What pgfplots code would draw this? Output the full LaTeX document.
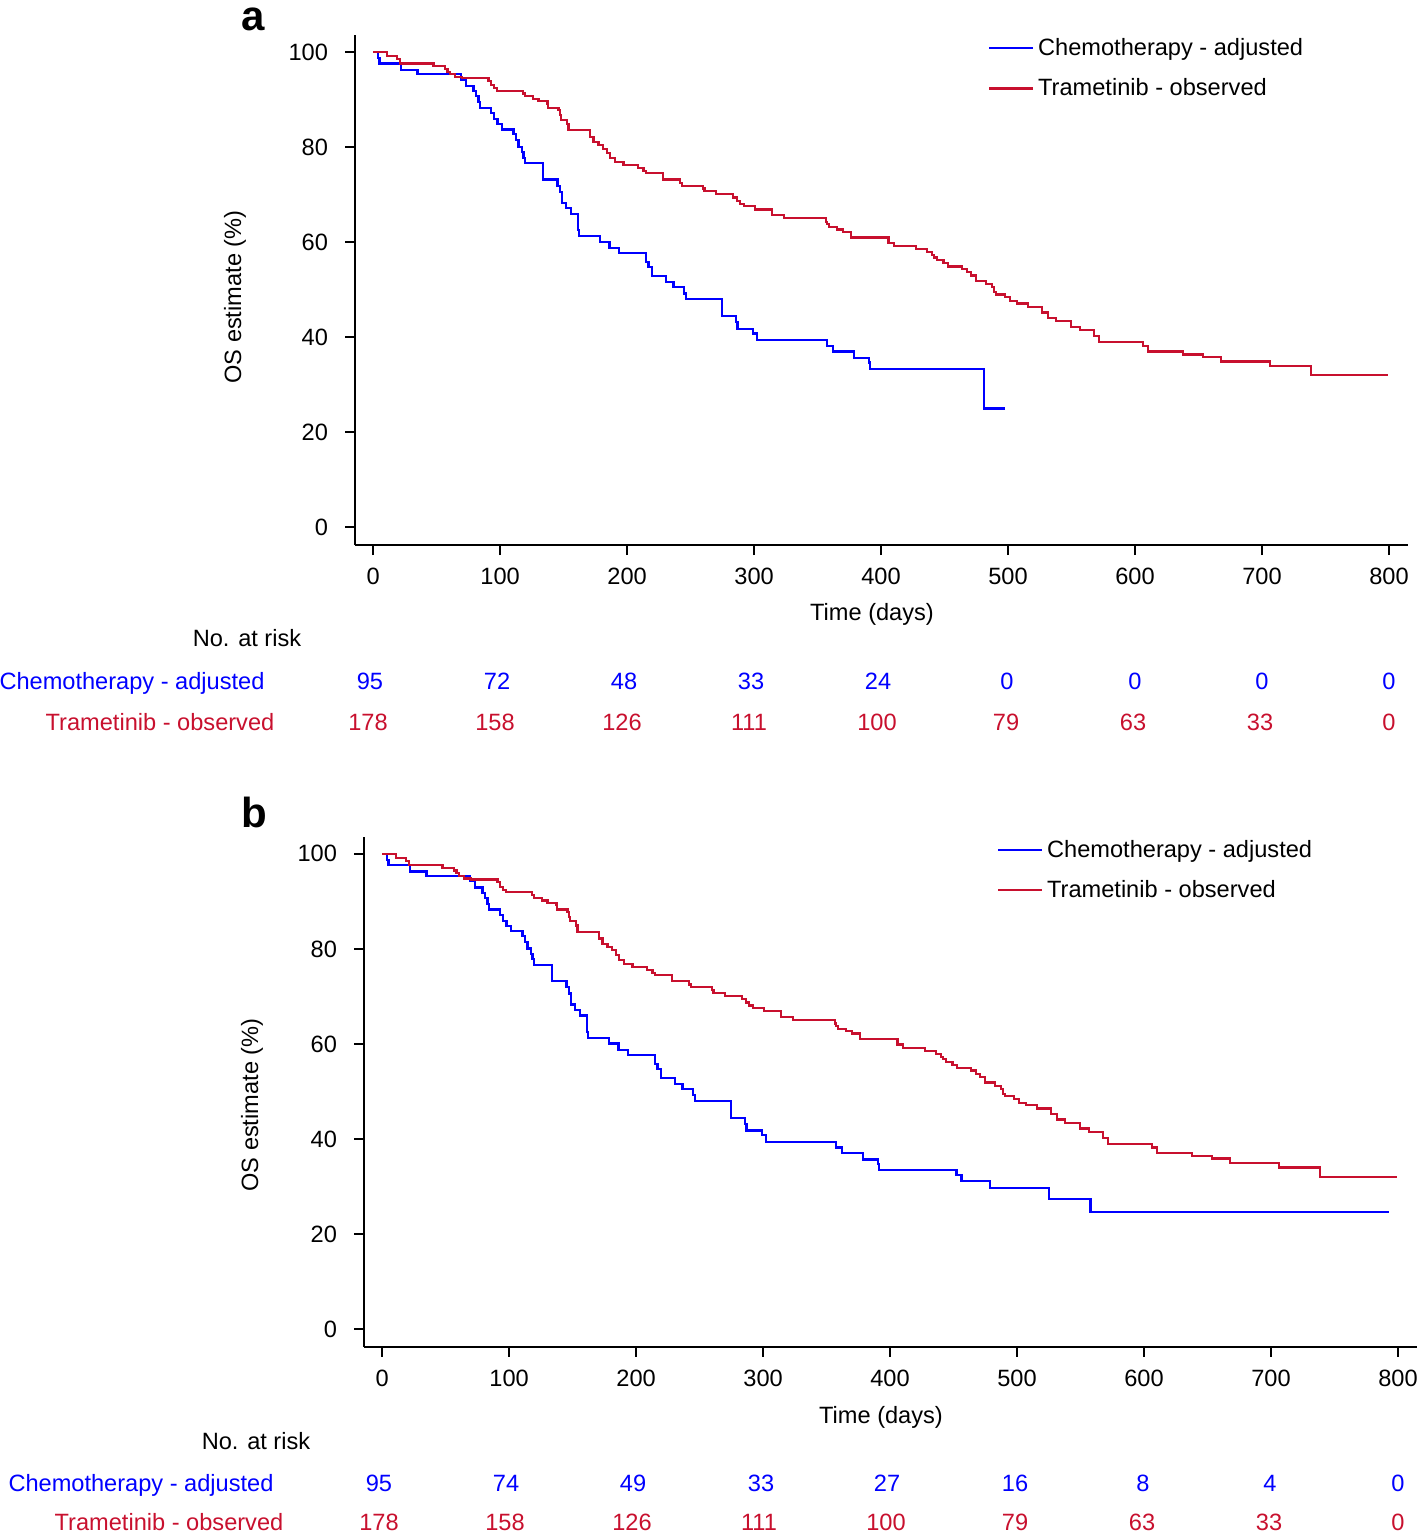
\documentclass[border=0pt]{standalone}
\usepackage{fontspec}
\setmainfont{Liberation Sans}
\usepackage{pgfplots}
\pgfplotsset{compat=1.18}
\usepackage{pgfplotstable}
\definecolor{chemo}{RGB}{0,0,255}
\definecolor{tram}{RGB}{200,16,46}
\newcommand\lblfont{\fontsize{11.8}{13.5}\selectfont}

% Trametinib - observed (same curve in both panels)
\pgfplotstableread{
day os
0 100
10.8 99.2
19 98.5
21 97.6
47.5 97.0
56.7 96.5
58.5 95.9
60.6 95.4
64.6 94.8
69.8 94.6
90.8 94.0
92.5 93.0
95 92.4
97.4 91.9
117.9 91.3
119.7 90.7
125.7 90.2
130.2 89.7
137.3 89.2
138 88.3
145.9 87.8
147.2 86.7
148 85.8
152.5 84.9
153.8 83.6
170.9 82.2
173.5 81.1
177.4 80.4
181.3 79.7
184 78.7
186.6 77.7
190.6 76.9
197.1 76.2
208.4 75.6
212.9 75.0
215 74.5
228.1 73.2
241.7 72.5
243.5 71.9
259.6 71.3
261 70.8
270 70.1
283.2 69.4
286.4 68.7
289 68.1
292.1 67.6
300.8 66.9
314 65.7
323.6 65.1
356.4 64.3
357.2 63.8
359 63.2
365.1 62.7
369.8 62.2
376.1 61.0
405.8 59.9
410.2 59.2
427.6 58.5
436 57.9
440.4 57.3
441.7 56.8
443.9 56.2
449.1 55.6
453 54.9
463.5 54.4
467.9 53.7
470.6 53.0
474.8 51.9
482.7 51.2
487.6 50.6
489 49.5
490.6 49.0
497.6 48.4
501.6 47.6
507.3 47.1
515.5 46.4
526.7 45.2
531.7 44.1
537.8 43.4
549.4 42.2
556.7 41.5
567.7 40.2
571.9 39.0
606.1 38.2
610.5 37.0
637.6 36.4
653.8 35.9
667.5 34.9
706.3 34.0
738.3 32.0
799.5 32.0
}\tram

% Chemotherapy - adjusted, panel a
\pgfplotstableread{
day os
0 100
3.7 98.7
5 97.6
21.8 96.3
34.9 95.4
69 94.2
73 92.9
79 91.8
80.9 90.7
82.9 89.5
84.3 88.3
92.9 87.2
95.3 85.9
97.9 84.8
101.3 83.7
110.5 82.7
112.6 81.5
114.4 80.1
117.1 79.0
118.4 77.8
119.7 76.6
133.6 73.2
145.1 71.9
147.2 70.6
148.6 68.3
152 67.2
155.7 66.0
161.4 62.5
162 61.3
178.7 60.1
186.1 58.8
193.9 57.7
215 55.8
216.8 54.8
219.4 52.9
230.7 51.6
236.5 50.6
244.9 49.2
246.2 48.0
275 44.5
285.8 43.2
286.9 41.8
299 40.8
302.6 39.4
357.2 38.2
361.9 37.0
378.9 35.7
390.8 34.7
391.3 33.3
480.9 25.0
497.6 25.0
}\chemoa

% Chemotherapy - adjusted, panel b
\pgfplotstableread{
day os
0 100
3.7 98.7
5 97.6
21.8 96.3
34.9 95.4
69 94.2
73 92.9
79 91.8
80.9 90.7
82.9 89.5
84.3 88.3
92.9 87.2
95.3 85.9
97.9 84.8
101.3 83.7
110.5 82.7
112.6 81.5
114.4 80.1
117.1 79.0
118.4 77.8
119.7 76.6
133.6 73.2
145.1 71.9
147.2 70.6
148.6 68.3
152 67.2
155.7 66.0
161.4 62.5
162 61.3
178.7 60.1
186.1 58.8
193.9 57.7
215 55.8
216.8 54.8
219.4 52.9
230.7 51.6
236.5 50.6
244.9 49.2
246.2 48.0
275 44.5
285.8 43.2
286.9 41.8
299 40.8
302.6 39.4
357.2 38.2
361.9 37.0
378.9 35.7
390.8 34.7
391.3 33.5
452.4 32.4
456.3 31.1
478.5 29.7
525.2 27.4
557.8 24.6
793 24.6
}\chemob

\pgfplotsset{kmaxis/.style={
    scale only axis,
    width=526.5pt, height=255pt,
    xmin=-14.3, xmax=815, ymin=-3.7, ymax=103.6,
    axis x line=bottom, axis y line=left,
    axis line style={-, line width=1pt},
    tick align=outside, major tick length=5pt,
    tick style={line width=1pt, black},
    xtick={0,100,...,800}, ytick={0,20,...,100},
    /pgf/number format/assume math mode=true,
    tick label style={font=\lblfont},
    x tick label style={yshift=-3pt},
    y tick label style={xshift=-5pt},
    legend style={draw=none, fill=none, at={(0.595,1.01)}, anchor=north west,
        font=\lblfont, row sep=6pt},
    legend cell align=left,
    legend image code/.code={\draw[##1, line width=1pt] (0pt,0pt) -- (14pt,0pt); \path (0pt,0pt) -- (22pt,0pt);},
    every axis plot/.append style={const plot, line width=1.1pt, mark=none},
}}

\begin{document}
\begin{tikzpicture}[font=\lblfont]
% panel a
\begin{axis}[kmaxis, at={(177.5pt,-272.5pt)}, anchor=south west]
\addplot[chemo] table[x=day, y=os] {\chemoa};
\addplot[tram] table[x=day, y=os] {\tram};
\legend{Chemotherapy - adjusted, Trametinib - observed}
\end{axis}
% panel b
\begin{axis}[kmaxis, at={(182pt,-673.35pt)}, anchor=south west]
\addplot[chemo] table[x=day, y=os] {\chemob};
\addplot[tram] table[x=day, y=os] {\tram};
\legend{Chemotherapy - adjusted, Trametinib - observed}
\end{axis}

\begin{scope}[x=0.5pt, y=-0.5pt]
% panel labels
\node[anchor=base, inner sep=0pt, font=\fontsize{21}{24}\selectfont\bfseries] at (253,30) {a};
\node[anchor=base, inner sep=0pt, font=\fontsize{21}{24}\selectfont\bfseries] at (254,827) {b};
% axis titles
\node[anchor=base, rotate=90] at (241,297) {OS estimate (\%)};
\node[anchor=base, rotate=90] at (258,1105) {OS estimate (\%)};
\node[anchor=base] at (872,620) {Time (days)};
\node[anchor=base] at (881,1423) {Time (days)};
% risk table a
\node[anchor=base] at (247,646) {No. at risk};
\node[anchor=base, text=chemo] at (132,689) {Chemotherapy - adjusted};
\node[anchor=base, text=tram] at (160,730) {Trametinib - observed};
\foreach \x/\n in {370/95,497/72,624/48,751/33,878/24,1007/0,1135/0,1262/0,1389/0}
  \node[anchor=base, text=chemo] at (\x,689) {\n};
\foreach \x/\n in {368/178,495/158,622/126,749/111,877/100,1006/79,1133/63,1260/33,1389/0}
  \node[anchor=base, text=tram] at (\x,730) {\n};
% risk table b
\node[anchor=base] at (256,1449) {No. at risk};
\node[anchor=base, text=chemo] at (141,1491) {Chemotherapy - adjusted};
\node[anchor=base, text=tram] at (169,1530) {Trametinib - observed};
\foreach \x/\n in {379/95,506/74,633/49,761/33,887/27,1015/16,1143/8,1270/4,1398/0}
  \node[anchor=base, text=chemo] at (\x,1491) {\n};
\foreach \x/\n in {379/178,505/158,632/126,759/111,886/100,1015/79,1142/63,1269/33,1398/0}
  \node[anchor=base, text=tram] at (\x,1530) {\n};
\end{scope}

\pgfresetboundingbox
\useasboundingbox (0pt,0pt) rectangle (709pt,-766.5pt);
\end{tikzpicture}
\end{document}
